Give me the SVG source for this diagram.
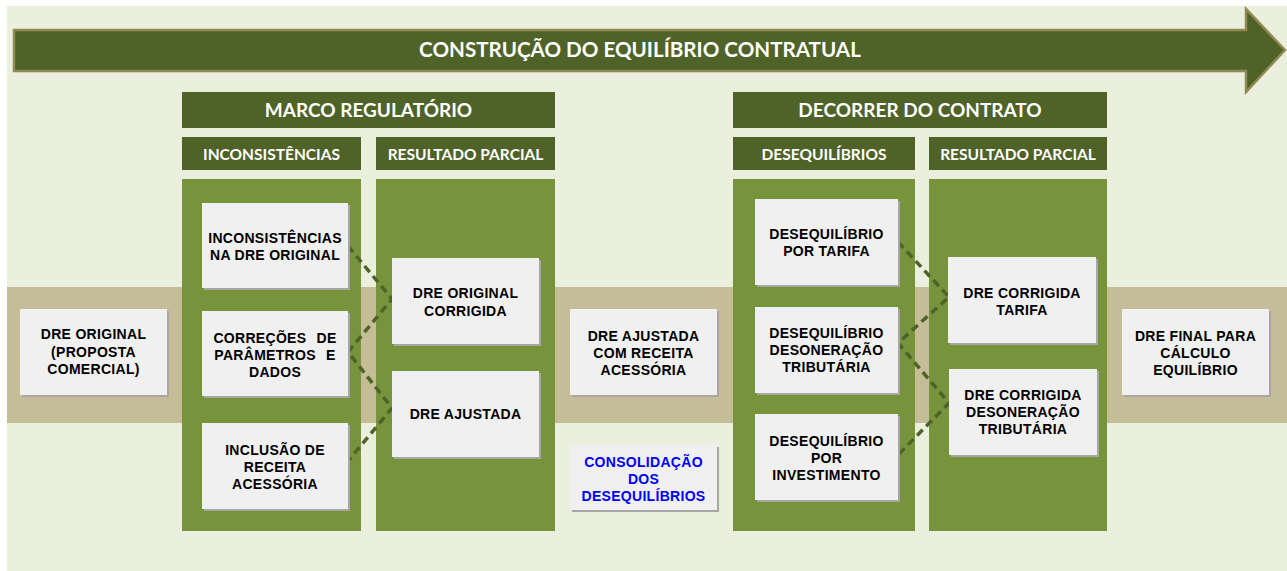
<svg xmlns="http://www.w3.org/2000/svg" width="1287" height="571" viewBox="0 0 1287 571">
<style>
.hdr{fill:#4F6228;}
.col{fill:#77933C;}
.sh{fill:#A6A6A6;}
.bx{fill:#F0F0F0;}
.ht{font-family:Lato,"Open Sans",sans-serif;font-weight:bold;fill:#FFFFFF;text-anchor:middle;}
.bt{font-family:"Liberation Sans",Arial,sans-serif;font-weight:bold;font-size:14px;letter-spacing:0.3px;fill:#000000;text-anchor:middle;}
.blue{fill:#0000FF;}
.dash{fill:none;stroke:#4F6228;stroke-width:3.5;stroke-dasharray:8 5;}
</style>
<rect x="0" y="0" width="1287" height="571" fill="#FFFFFF"/>
<rect x="7" y="6" width="1280" height="565" fill="#EBEFDE"/>
<rect x="7" y="287" width="1280" height="136" fill="#C4BD97"/>

<g id="arrow">
<polygon points="14,30 1246,30 1246,9 1285,50 1246,92 1246,71 14,71" fill="#4F6228" stroke="#938953" stroke-width="2.5"/>
<text class="ht" x="640" y="57" font-size="20.6">CONSTRUÇÃO DO EQUILÍBRIO CONTRATUAL</text>
</g>

<g id="marco">
<rect class="hdr" x="182" y="92" width="373" height="36"/>
<text class="ht" x="368.5" y="117" font-size="19">MARCO REGULATÓRIO</text>
</g>
<g id="hdr-inconsistencias">
<rect class="hdr" x="182" y="137" width="179" height="33"/>
<text class="ht" x="271.5" y="160" font-size="15.5">INCONSISTÊNCIAS</text>
</g>
<g id="hdr-resultado1">
<rect class="hdr" x="376" y="137" width="179" height="33"/>
<text class="ht" x="465.5" y="160" font-size="15.5">RESULTADO PARCIAL</text>
</g>
<g id="decorrer">
<rect class="hdr" x="733" y="92" width="374" height="36"/>
<text class="ht" x="920" y="117" font-size="19">DECORRER DO CONTRATO</text>
</g>
<g id="hdr-desequilibrios">
<rect class="hdr" x="733" y="137" width="182" height="33"/>
<text class="ht" x="824" y="160" font-size="15.5">DESEQUILÍBRIOS</text>
</g>
<g id="hdr-resultado2">
<rect class="hdr" x="929" y="137" width="178" height="33"/>
<text class="ht" x="1018" y="160" font-size="15.5">RESULTADO PARCIAL</text>
</g>

<g id="columns">
<rect class="col" x="182" y="179" width="179" height="352"/>
<rect class="col" x="376" y="179" width="179" height="352"/>
<rect class="col" x="733" y="179" width="182" height="352"/>
<rect class="col" x="929" y="179" width="178" height="352"/>
</g>

<g id="connectors">
<polyline class="dash" points="348,246 392,299 348,352 392,408 349,460"/>
<polyline class="dash" points="898,242 949,297 898,343 949,403 898,455"/>
</g>

<g id="dre-original">
<rect class="sh" x="22" y="311" width="147" height="86"/>
<rect class="bx" x="20" y="309" width="147" height="86"/>
<text class="bt" x="93.5" y="339">DRE ORIGINAL</text>
<text class="bt" x="93.5" y="357">(PROPOSTA</text>
<text class="bt" x="93.5" y="374">COMERCIAL)</text>
</g>

<g id="inconsistencias-dre">
<rect class="sh" x="204" y="205" width="146" height="85"/>
<rect class="bx" x="202" y="203" width="146" height="85"/>
<text class="bt" x="275" y="243">INCONSISTÊNCIAS</text>
<text class="bt" x="275" y="260">NA DRE ORIGINAL</text>
</g>

<g id="correcoes">
<rect class="sh" x="204" y="313" width="146" height="85"/>
<rect class="bx" x="202" y="311" width="146" height="85"/>
<text class="bt" x="275" y="343" word-spacing="6">CORREÇÕES DE</text>
<text class="bt" x="275" y="360" word-spacing="6">PARÂMETROS E</text>
<text class="bt" x="275" y="377">DADOS</text>
</g>

<g id="inclusao">
<rect class="sh" x="204" y="425" width="146" height="86"/>
<rect class="bx" x="202" y="423" width="146" height="86"/>
<text class="bt" x="275" y="455">INCLUSÃO DE</text>
<text class="bt" x="275" y="472">RECEITA</text>
<text class="bt" x="275" y="489">ACESSÓRIA</text>
</g>

<g id="dre-original-corrigida">
<rect class="sh" x="394" y="260" width="147" height="86"/>
<rect class="bx" x="392" y="258" width="147" height="86"/>
<text class="bt" x="465.5" y="298">DRE ORIGINAL</text>
<text class="bt" x="465.5" y="316">CORRIGIDA</text>
</g>

<g id="dre-ajustada">
<rect class="sh" x="394" y="373" width="147" height="86"/>
<rect class="bx" x="392" y="371" width="147" height="86"/>
<text class="bt" x="465.5" y="419">DRE AJUSTADA</text>
</g>

<g id="dre-ajustada-receita">
<rect class="sh" x="572" y="311" width="147" height="86"/>
<rect class="bx" x="570" y="309" width="147" height="86"/>
<text class="bt" x="643.5" y="341">DRE AJUSTADA</text>
<text class="bt" x="643.5" y="358">COM RECEITA</text>
<text class="bt" x="643.5" y="375">ACESSÓRIA</text>
</g>

<g id="consolidacao">
<rect class="sh" x="572" y="447" width="147" height="65"/>
<rect class="bx" x="570" y="445" width="147" height="65"/>
<text class="bt blue" x="643.5" y="467">CONSOLIDAÇÃO</text>
<text class="bt blue" x="643.5" y="484">DOS</text>
<text class="bt blue" x="643.5" y="501">DESEQUILÍBRIOS</text>
</g>

<g id="deseq-tarifa">
<rect class="sh" x="757" y="201" width="143" height="86"/>
<rect class="bx" x="755" y="199" width="143" height="86"/>
<text class="bt" x="826.5" y="239">DESEQUILÍBRIO</text>
<text class="bt" x="826.5" y="256">POR TARIFA</text>
</g>

<g id="deseq-desoneracao">
<rect class="sh" x="757" y="309" width="143" height="86"/>
<rect class="bx" x="755" y="307" width="143" height="86"/>
<text class="bt" x="826.5" y="338">DESEQUILÍBRIO</text>
<text class="bt" x="826.5" y="355">DESONERAÇÃO</text>
<text class="bt" x="826.5" y="372">TRIBUTÁRIA</text>
</g>

<g id="deseq-investimento">
<rect class="sh" x="757" y="416" width="143" height="86"/>
<rect class="bx" x="755" y="414" width="143" height="86"/>
<text class="bt" x="826.5" y="446">DESEQUILÍBRIO</text>
<text class="bt" x="826.5" y="463">POR</text>
<text class="bt" x="826.5" y="480">INVESTIMENTO</text>
</g>

<g id="dre-corrigida-tarifa">
<rect class="sh" x="950" y="259" width="148" height="86"/>
<rect class="bx" x="948" y="257" width="148" height="86"/>
<text class="bt" x="1022" y="298">DRE CORRIGIDA</text>
<text class="bt" x="1022" y="315">TARIFA</text>
</g>

<g id="dre-corrigida-desoneracao">
<rect class="sh" x="951" y="371" width="148" height="86"/>
<rect class="bx" x="949" y="369" width="148" height="86"/>
<text class="bt" x="1023" y="400">DRE CORRIGIDA</text>
<text class="bt" x="1023" y="417">DESONERAÇÃO</text>
<text class="bt" x="1023" y="434">TRIBUTÁRIA</text>
</g>

<g id="dre-final">
<rect class="sh" x="1124" y="311" width="147" height="86"/>
<rect class="bx" x="1122" y="309" width="147" height="86"/>
<text class="bt" x="1195.5" y="341">DRE FINAL PARA</text>
<text class="bt" x="1195.5" y="358">CÁLCULO</text>
<text class="bt" x="1195.5" y="375">EQUILÍBRIO</text>
</g>
</svg>
